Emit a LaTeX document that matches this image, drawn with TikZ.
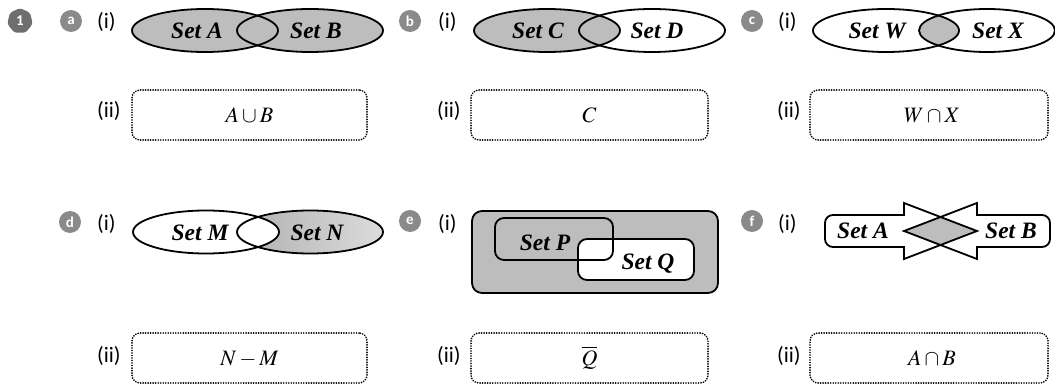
\documentclass[tikz,border=0pt]{standalone}
\usepackage{mathptmx}
\usepackage{fontspec}
\newfontfamily\setf{Liberation Serif}
\newfontfamily\labf{Carlito}
\usetikzlibrary{shapes.geometric}
\definecolor{vfill}{HTML}{BDBDBE}
\definecolor{badgegray}{HTML}{8A8A8A}
\definecolor{badgeone}{HTML}{6E6E6E}
\tikzset{
  settext/.style={font=\setf\bfseries\itshape\fontsize{23.5}{23.5}\selectfont, anchor=base, inner sep=0pt},
  labtext/.style={font=\labf\fontsize{22}{22}\selectfont, anchor=base west, inner sep=0pt},
  mathtext/.style={font=\fontsize{22}{22}\selectfont, anchor=base, inner sep=0pt},
  badgec/.style={circle, fill=badgegray, minimum size=22pt, inner sep=0pt, text=white, font=\labf\bfseries\fontsize{15}{15}\selectfont},
  answerbox/.style={draw, rounded corners=8pt, line width=1.9pt, dash pattern=on 0.01pt off 2.5pt, line cap=round, inner sep=0pt},
  venn/.style={line width=1.8pt},
}
\begin{document}
\begin{tikzpicture}[x=1pt,y=1pt]
\useasboundingbox (0,0) rectangle (1055,-385);
% badges
\node[regular polygon, regular polygon sides=7, fill=badgeone, minimum size=26pt, inner sep=0pt, rounded corners=2pt, text=white, font=\labf\bfseries\fontsize{15}{15}\selectfont] (n1) at (20,-21) {1};
\node[badgec] (ba) at (71,-21) {a};
\node[badgec] (bb) at (410,-21) {b};
\node[badgec] (bc) at (752,-21) {c};
\node[badgec] (bd) at (70,-222) {d};
\node[badgec] (be) at (410,-221) {e};
\node[badgec] (bf) at (752,-221) {f};
% labels
\node[labtext] (ai) at (97,-29) {(i)};
\node[labtext] (aii) at (97,-118) {(ii)};
\node[labtext] (bi) at (438,-29) {(i)};
\node[labtext] (bii) at (437,-118) {(ii)};
\node[labtext] (ci) at (778,-29) {(i)};
\node[labtext] (cii) at (777,-118) {(ii)};
\node[labtext] (di) at (97,-230) {(i)};
\node[labtext] (dii) at (97,-362) {(ii)};
\node[labtext] (ei) at (438,-230) {(i)};
\node[labtext] (eii) at (437,-362) {(ii)};
\node[labtext] (fi) at (778,-230) {(i)};
\node[labtext] (fii) at (777,-362) {(ii)};
% (a) union
\fill[vfill] (205,-30.5) ellipse [x radius=73, y radius=21.5];
\fill[vfill] (310,-30.5) ellipse [x radius=73, y radius=21.5];
\draw[venn] (205,-30.5) ellipse [x radius=73, y radius=21.5];
\draw[venn] (310,-30.5) ellipse [x radius=73, y radius=21.5];
\node[settext] (sa) at (197,-38.5) {Set A};
\node[settext] (sb) at (316,-38.5) {Set B};
% (b) C
\fill[vfill] (547,-30.5) ellipse [x radius=73, y radius=21.5];
\draw[venn] (547,-30.5) ellipse [x radius=73, y radius=21.5];
\draw[venn] (652,-30.5) ellipse [x radius=73, y radius=21.5];
\node[settext] (sc) at (538,-38.5) {Set C};
\node[settext] (sd) at (657,-38.5) {Set D};
% (c) intersection
\begin{scope}
  \clip (886,-30.5) ellipse [x radius=73, y radius=21.5];
  \fill[vfill] (987,-30.5) ellipse [x radius=68, y radius=21.5];
\end{scope}
\draw[venn] (886,-30.5) ellipse [x radius=73, y radius=21.5];
\draw[venn] (987,-30.5) ellipse [x radius=68, y radius=21.5];
\node[settext] (sw) at (877,-38.5) {Set W};
\node[settext] (sx) at (998,-38.5) {Set X};
% (d) N - M
\fill[left color=gray!62, right color=gray!28] (310,-232) ellipse [x radius=73, y radius=21.5];
\begin{scope}
  \clip (206,-232) ellipse [x radius=73, y radius=21.5];
  \fill[white] (310,-232) ellipse [x radius=73, y radius=21.5];
\end{scope}
\draw[venn] (206,-232) ellipse [x radius=73, y radius=21.5];
\draw[venn] (310,-232) ellipse [x radius=73, y radius=21.5];
\node[settext] (sm) at (200,-240) {Set M};
\node[settext] (sn) at (317,-240) {Set N};
% (e) complement of Q
\draw[venn, fill=vfill, rounded corners=10pt] (472,-211) rectangle (718,-293);
\fill[vfill, rounded corners=9pt] (495,-218) rectangle (613,-260);
\draw[venn, fill=white, rounded corners=9pt] (578,-239) rectangle (694,-280);
\draw[venn, rounded corners=9pt] (495,-218) rectangle (613,-260);
\node[settext] (sp) at (545,-250) {Set P};
\node[settext] (sq) at (648,-269) {Set Q};
% (f) arrows
\fill[white] (904,-215) -- (904,-203) -- (977,-231) -- (904,-259) -- (904,-247) -- (833,-247) arc[start angle=270, end angle=180, radius=8] -- (825,-223) arc[start angle=180, end angle=90, radius=8] -- cycle;
\fill[white] (977,-215) -- (977,-203) -- (904,-231) -- (977,-259) -- (977,-247) -- (1042,-247) arc[start angle=-90, end angle=0, radius=8] -- (1050,-223) arc[start angle=0, end angle=90, radius=8] -- cycle;
\fill[vfill] (904,-231) -- (940.5,-217) -- (977,-231) -- (940.5,-245) -- cycle;
\draw[venn, line join=miter] (904,-215) -- (904,-203) -- (977,-231) -- (904,-259) -- (904,-247) -- (833,-247) arc[start angle=270, end angle=180, radius=8] -- (825,-223) arc[start angle=180, end angle=90, radius=8] -- cycle;
\draw[venn, line join=miter] (977,-215) -- (977,-203) -- (904,-231) -- (977,-259) -- (977,-247) -- (1042,-247) arc[start angle=-90, end angle=0, radius=8] -- (1050,-223) arc[start angle=0, end angle=90, radius=8] -- cycle;
\node[settext] (sfa) at (863,-238) {Set A};
\node[settext] (sfb) at (1011,-238) {Set B};
% answer boxes
\node[answerbox, minimum width=235pt, minimum height=50pt] (boxa) at (249.5,-115) {};
\node[answerbox, minimum width=237pt, minimum height=50pt] (boxb) at (589.5,-115) {};
\node[answerbox, minimum width=238pt, minimum height=50pt] (boxc) at (929,-115) {};
\node[answerbox, minimum width=235pt, minimum height=50pt] (boxd) at (249.5,-358) {};
\node[answerbox, minimum width=237pt, minimum height=50pt] (boxe) at (589.5,-358) {};
\node[answerbox, minimum width=238pt, minimum height=50pt] (boxf) at (929,-358) {};
\node[mathtext] (ansa) at ([yshift=-7.5pt]boxa.center) {$A\cup B$};
\node[mathtext] (ansb) at ([yshift=-7.5pt]boxb.center) {$C$};
\node[mathtext] (ansc) at ([xshift=3pt,yshift=-7.5pt]boxc.center) {$W\cap X$};
\node[mathtext] (ansd) at ([yshift=-7pt]boxd.center) {$N-M$};
\node[mathtext] (anse) at ([yshift=-7pt]boxe.center) {$\overline{Q}$};
\node[mathtext] (ansf) at ([xshift=3pt,yshift=-7pt]boxf.center) {$A\cap B$};
\end{tikzpicture}
\end{document}
